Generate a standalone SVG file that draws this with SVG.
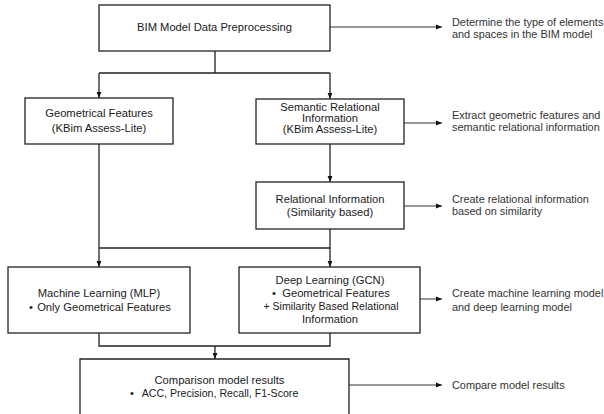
<svg xmlns="http://www.w3.org/2000/svg" width="604" height="414" viewBox="0 0 604 414">
<defs>
<marker id="ah" viewBox="0 0 10 10" refX="10" refY="5" markerWidth="6" markerHeight="6" markerUnits="userSpaceOnUse" orient="auto">
<path d="M0,1 L10,5 L0,9 Z" fill="#111"/>
</marker>
<style>
.box{fill:#fff;stroke:#222;stroke-width:1.3}
.ln{fill:none;stroke:#222;stroke-width:1.3}
.an{fill:none;stroke:#333;stroke-width:1}
.t{font-family:"Liberation Sans",Arial,sans-serif;font-size:11.2px;fill:#1a1a1a;text-anchor:middle}
.s{font-size:10.6px}
.tl{font-family:"Liberation Sans",Arial,sans-serif;font-size:10.9px;fill:#333;text-anchor:start}
</style>
</defs>
<rect width="604" height="414" fill="#fff"/>
<g id="connectors">
<path class="ln" d="M215,51 V73 M99,73 H330"/>
<path class="ln" d="M99,73 V98" marker-end="url(#ah)"/>
<path class="ln" d="M330,73 V99" marker-end="url(#ah)"/>
<path class="ln" d="M330,144 V182" marker-end="url(#ah)"/>
<path class="ln" d="M99,144 V267" marker-end="url(#ah)"/>
<path class="ln" d="M330,229 V267" marker-end="url(#ah)"/>
<path class="ln" d="M99,248 H330"/>
<path class="ln" d="M99,333 V346 H330 V333"/>
<path class="ln" d="M215,346 V359" marker-end="url(#ah)"/>
<path class="an" d="M330,27 H442" marker-end="url(#ah)"/>
<path class="an" d="M404,123 H442" marker-end="url(#ah)"/>
<path class="an" d="M404,206 H442" marker-end="url(#ah)"/>
<path class="an" d="M420,299 H442" marker-end="url(#ah)"/>
<path class="an" d="M349,385 H442" marker-end="url(#ah)"/>
</g>
<g id="n1">
<rect class="box" x="99" y="5" width="231" height="46"/>
<text class="t" x="214.5" y="31">BIM Model Data Preprocessing</text>
</g>
<g id="n2">
<rect class="box" x="25" y="98" width="148" height="46"/>
<text class="t" x="99" y="117">Geometrical Features</text>
<text class="t" x="99" y="132">(KBim Assess-Lite)</text>
</g>
<g id="n3">
<rect class="box" x="256" y="99" width="148" height="45"/>
<text class="t" x="330" y="111">Semantic Relational</text>
<text class="t" x="330" y="122">Information</text>
<text class="t" x="330" y="133">(KBim Assess-Lite)</text>
</g>
<g id="n4">
<rect class="box" x="256" y="182" width="148" height="47"/>
<text class="t" x="330" y="203">Relational Information</text>
<text class="t" x="330" y="216">(Similarity based)</text>
</g>
<g id="n5">
<rect class="box" x="8" y="267" width="182" height="66"/>
<text class="t" x="99" y="297">Machine Learning (MLP)</text>
<text class="t" x="31" y="311">•</text>
<text class="t" x="104" y="311">Only Geometrical Features</text>
</g>
<g id="n6">
<rect class="box" x="239" y="267" width="181" height="66"/>
<text class="t" x="330" y="284">Deep Learning (GCN)</text>
<text class="t" x="274" y="297">•</text>
<text class="t" x="336" y="297">Geometrical Features</text>
<text class="t s" x="331" y="310">+ Similarity Based Relational</text>
<text class="t" x="330" y="323">Information</text>
</g>
<g id="n7">
<path class="box" d="M80,416 V359 H349 V416"/>
<text class="t" x="219.5" y="384">Comparison model results</text>
<text class="t" x="132" y="397">•</text>
<text class="t s" x="220" y="397">ACC, Precision, Recall, F1-Score</text>
</g>
<g id="notes">
<text class="tl" x="452" y="26">Determine the type of elements</text>
<text class="tl" x="452" y="38">and spaces in the BIM model</text>
<text class="tl" x="452" y="119">Extract geometric features and</text>
<text class="tl" x="452" y="131">semantic relational information</text>
<text class="tl" x="452" y="203">Create relational information</text>
<text class="tl" x="452" y="215">based on similarity</text>
<text class="tl" x="452" y="297">Create machine learning model</text>
<text class="tl" x="452" y="311">and deep learning model</text>
<text class="tl" x="452" y="389">Compare model results</text>
</g>
</svg>
